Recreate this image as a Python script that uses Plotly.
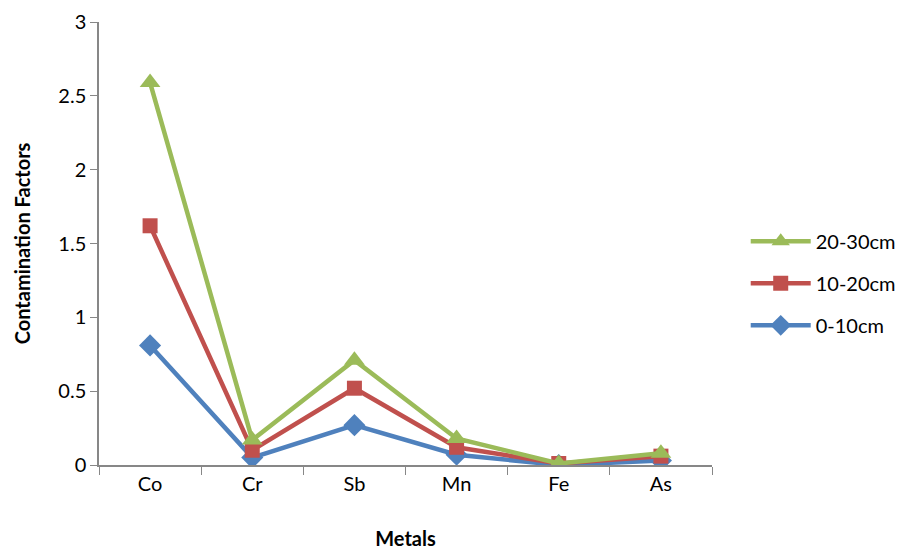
import plotly.graph_objects as go

metals = ["Co", "Cr", "Sb", "Mn", "Fe", "As"]
s_0_10 = [0.81, 0.05, 0.27, 0.07, 0.0, 0.03]
s_10_20 = [1.62, 0.10, 0.52, 0.12, 0.01, 0.06]
s_20_30 = [2.59, 0.17, 0.71, 0.18, 0.01, 0.08]
y_ticks = [0, 0.5, 1, 1.5, 2, 2.5, 3]
y_tick_labels = ["0", "0.5", "1", "1.5", "2", "2.5", "3"]

fig = go.Figure()
fig.add_trace(go.Scatter(x=metals, y=s_0_10, name="0-10cm", mode="lines+markers",
                         legendgroup="a", legendrank=3,
                         line=dict(color="#4F81BD", width=4.5),
                         marker=dict(symbol="diamond", size=17, color="#4F81BD")))
fig.add_trace(go.Scatter(x=metals, y=s_10_20, name="10-20cm", mode="lines+markers",
                         legendgroup="b", legendrank=2,
                         line=dict(color="#C0504D", width=4.5),
                         marker=dict(symbol="square", size=15, color="#C0504D")))
fig.add_trace(go.Scatter(x=metals, y=s_20_30, name="20-30cm", mode="lines+markers",
                         legendgroup="c", legendrank=1,
                         line=dict(color="#9BBB59", width=4.5),
                         marker=dict(symbol="triangle-up", size=18, color="#9BBB59")))

fig.update_layout(
    width=903, height=544,
    margin=dict(l=91, r=199, t=14, b=87, autoexpand=False),
    paper_bgcolor="white", plot_bgcolor="white",
    font=dict(family="Lato, Open Sans, sans-serif", size=20, color="black"),
    showlegend=True,
    legend=dict(x=1.055, y=0.41, xanchor="left", yanchor="middle",
                traceorder="grouped", font=dict(size=20),
                itemwidth=60, tracegroupgap=13),
    xaxis=dict(
        title=dict(text="<b>Metals</b>", font=dict(size=20), standoff=38),
        type="category", categoryorder="array", categoryarray=metals,
        showline=True, linecolor="#878787", linewidth=1.5,
        ticks="outside", tickson="boundaries", ticklen=8, tickcolor="#878787",
        showgrid=False, zeroline=False, range=[-0.5, 5.5], automargin=False,
    ),
    yaxis=dict(
        title=dict(text="<b>Contamination Factors</b>", font=dict(size=20), standoff=22),
        range=[0, 3], tickvals=y_ticks, ticktext=y_tick_labels,
        showline=True, linecolor="#878787", linewidth=1.5,
        ticks="outside", ticklen=7, tickcolor="#878787",
        showgrid=False, zeroline=False, automargin=False,
    ),
)

fig.write_html("out.html")
